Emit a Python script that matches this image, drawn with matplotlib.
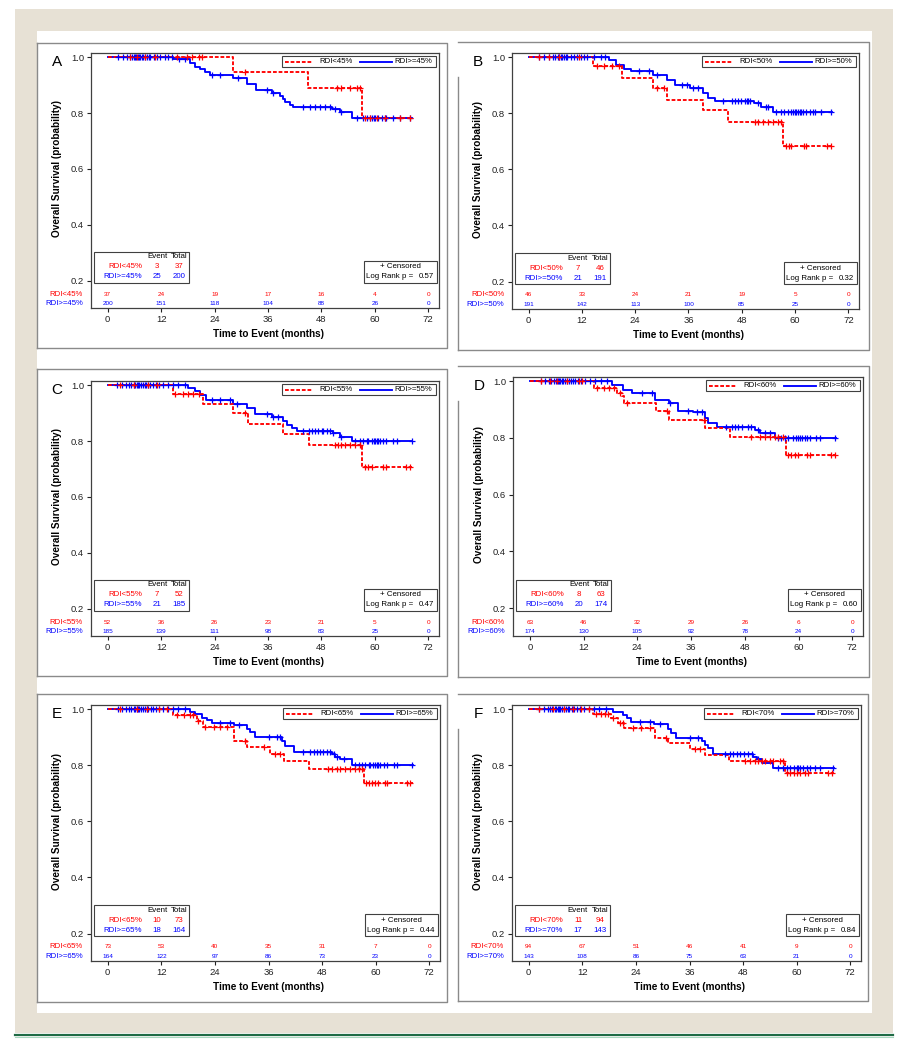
import numpy as np
import matplotlib
matplotlib.use('Agg')
import matplotlib.pyplot as plt
import matplotlib.transforms as mtransforms
from matplotlib.patches import Rectangle
from matplotlib.lines import Line2D

plt.rcParams['font.family'] = ['Liberation Sans', 'DejaVu Sans']

W, H = 907, 1050
RED = '#ff0000'
BLUE = '#0000ff'

# ---------------- data ----------------
letters = ['A', 'B', 'C', 'D', 'E', 'F']
cutoffs = ['45', '50', '55', '60', '65', '70']
risk_times = [0, 12, 24, 36, 48, 60, 72]
end_time = [68.3, 68.3, 68.3, 68.3, 68.3, 68.3]
pvalues = ['0.57', '0.32', '0.47', '0.60', '0.44', '0.84']
red_events = [3, 7, 7, 8, 10, 11]
red_totals = [37, 46, 52, 63, 73, 94]
blue_events = [25, 21, 21, 20, 18, 17]
blue_totals = [200, 191, 185, 174, 164, 143]

# panel A
a_red_t = [28.2, 45.0, 57.2]
a_red_s = [0.946, 0.891, 0.781]
a_red_cens = [5.0, 6.5, 8.4, 10.6, 15.5, 17.7, 18.9, 20.4, 21.1, 30.8, 51.4, 52.5, 54.4, 55.9,
              56.7, 57.8, 58.9, 60.4, 62.3, 65.6, 67.9]
a_blue_t = [14.7, 18.5, 19.5, 20.7, 21.9, 23.0, 28.2, 31.2, 33.2, 36.8, 38.8, 39.3, 39.8, 41.0,
            41.7, 50.3, 52.2, 54.8]
a_blue_s = [0.994, 0.979, 0.966, 0.957, 0.948, 0.937, 0.925, 0.905, 0.883, 0.872, 0.862, 0.851,
            0.840, 0.830, 0.820, 0.813, 0.805, 0.784]
a_blue_cens = [2.4, 3.5, 4.3, 5.0, 5.5, 5.8, 6.1, 6.4, 6.7, 7.0, 7.3, 7.7, 8.0, 8.4, 8.8, 9.2, 9.6,
               10.3, 11.0, 11.8, 12.9, 13.6, 14.4, 15.9, 17.4, 23.4, 25.2, 29.3, 35.7, 37.2, 43.9,
               45.4, 46.6, 47.7, 48.8, 49.9, 51.0, 52.5, 55.9, 57.4, 58.2, 58.9, 59.3, 59.7, 60.0,
               60.8, 61.5, 62.3, 62.6, 64.1, 65.6, 67.9]
a_red_risk = [37, 24, 19, 17, 16, 4, 0]
a_blue_risk = [200, 151, 118, 104, 88, 26, 0]

# panel B
b_red_t = [14.5, 21.0, 28.1, 31.1, 39.3, 44.9, 57.2]
b_red_s = [0.969, 0.927, 0.889, 0.848, 0.810, 0.768, 0.683]
b_red_cens = [2.4, 4.6, 6.9, 11.3, 15.4, 16.9, 18.8, 20.3, 28.9, 30.4, 50.9, 51.6, 52.8, 53.9,
              55.0, 56.1, 56.9, 58.0, 58.7, 59.1, 62.1, 62.5, 67.3, 68.0]
b_blue_t = [18.1, 19.6, 21.5, 23.0, 28.1, 31.1, 33.0, 36.3, 39.3, 40.5, 41.9, 50.8, 52.4, 55.0]
b_blue_s = [0.990, 0.973, 0.957, 0.951, 0.935, 0.919, 0.900, 0.889, 0.872, 0.854, 0.843, 0.835,
            0.824, 0.805]
b_blue_cens = [2.4, 3.5, 4.6, 5.4, 6.0, 6.5, 6.9, 7.2, 7.6, 8.0, 8.4, 8.7, 9.5, 10.2, 11.0, 11.7,
               12.5, 13.2, 14.7, 16.2, 17.3, 24.8, 27.0, 28.9, 34.5, 35.6, 37.1, 38.2, 43.8, 45.7,
               46.4, 47.2, 47.9, 48.7, 49.1, 49.4, 49.8, 51.6, 53.5, 53.9, 55.8, 56.9, 57.6, 58.4,
               59.1, 59.5, 59.9, 60.3, 60.6, 61.0, 61.4, 61.8, 62.5, 63.3, 64.0, 64.4, 65.9, 68.2]
b_red_risk = [46, 33, 24, 21, 19, 5, 0]
b_blue_risk = [191, 142, 113, 100, 85, 25, 0]

# panel C
c_red_t = [14.7, 21.5, 28.2, 31.4, 39.4, 45.1, 57.2]
c_red_s = [0.970, 0.932, 0.899, 0.861, 0.825, 0.785, 0.706]
c_red_cens = [2.8, 5.8, 9.1, 11.0, 15.1, 17.0, 18.1, 19.2, 20.4, 30.8, 51.0, 51.8, 52.5, 53.3,
              54.4, 55.5, 56.7, 57.8, 58.5, 59.3, 61.9, 62.6, 67.1, 67.9]
c_blue_t = [18.1, 19.5, 20.7, 22.0, 28.2, 31.2, 33.1, 36.8, 39.4, 40.2, 41.5, 42.5, 50.6, 52.2, 54.8]
c_blue_s = [0.990, 0.978, 0.965, 0.948, 0.931, 0.917, 0.896, 0.887, 0.872, 0.858, 0.845, 0.837,
            0.829, 0.815, 0.799]
c_blue_cens = [2.2, 3.2, 4.0, 4.7, 5.3, 5.8, 6.2, 6.5, 6.8, 7.1, 7.5, 7.9, 8.3, 8.7, 9.1, 9.6, 10.2,
               10.8, 11.5, 12.4, 13.5, 14.6, 15.8, 17.4, 23.4, 25.2, 27.5, 29.0, 35.7, 37.2, 38.3,
               43.9, 45.1, 45.8, 46.6, 47.3, 48.1, 48.4, 49.2, 49.9, 50.7, 52.5, 55.5, 56.7, 57.4,
               58.2, 58.5, 59.3, 59.7, 60.0, 60.4, 60.8, 61.2, 61.9, 62.6, 64.1, 64.9, 68.3]
c_red_risk = [52, 36, 26, 23, 21, 5, 0]
c_blue_risk = [185, 139, 111, 98, 83, 25, 0]

# panel D
d_red_t = [14.4, 19.4, 20.6, 21.1, 28.1, 31.0, 39.1, 44.8, 57.3]
d_red_s = [0.976, 0.957, 0.947, 0.925, 0.896, 0.864, 0.834, 0.804, 0.740]
d_red_cens = [2.4, 4.6, 6.1, 8.3, 10.9, 11.7, 15.0, 16.5, 17.6, 18.7, 20.2, 21.7, 30.6, 38.8,
              49.5, 51.4, 52.5, 53.6, 54.7, 55.5, 56.6, 57.7, 58.4, 59.2, 59.9, 61.8, 62.5, 67.3, 68.1]
d_blue_t = [18.3, 20.9, 22.8, 28.0, 31.0, 33.2, 36.5, 39.1, 39.9, 41.7, 50.3, 51.4, 54.7]
d_blue_s = [0.987, 0.970, 0.957, 0.935, 0.922, 0.896, 0.890, 0.872, 0.854, 0.837, 0.828, 0.819,
            0.799]
d_blue_cens = [2.4, 3.4, 4.2, 4.8, 5.3, 5.8, 6.2, 6.5, 6.8, 7.1, 7.5, 7.9, 8.3, 8.7, 9.1, 9.6, 10.2,
               10.8, 11.5, 12.4, 13.5, 14.6, 15.8, 17.2, 25.0, 27.2, 31.3, 35.4, 37.3, 38.4, 43.9,
               45.1, 45.8, 46.5, 47.3, 48.8, 49.5, 51.0, 52.5, 53.6, 55.5, 56.2, 56.9, 57.7, 58.8,
               59.5, 59.9, 60.3, 60.7, 61.4, 61.8, 62.5, 64.0, 64.7, 68.1]
d_red_risk = [63, 46, 32, 29, 26, 6, 0]
d_blue_risk = [174, 130, 105, 92, 78, 24, 0]

# panel E
e_red_t = [14.7, 19.9, 21.4, 28.2, 31.1, 36.4, 39.4, 45.0, 57.4]
e_red_s = [0.980, 0.958, 0.935, 0.888, 0.864, 0.840, 0.814, 0.788, 0.736]
e_red_cens = [2.8, 6.5, 8.7, 11.4, 13.2, 15.5, 17.0, 18.4, 19.2, 20.3, 21.8, 23.7, 25.2, 26.7,
              30.8, 34.9, 37.5, 38.6, 49.4, 50.2, 51.3, 52.1, 53.2, 54.3, 55.4, 56.2, 57.0, 57.9,
              58.4, 59.1, 59.9, 60.6, 62.1, 62.5, 67.0, 67.7]
e_blue_t = [18.4, 19.5, 21.1, 22.2, 23.3, 28.2, 31.1, 31.9, 33.0, 39.0, 39.7, 41.6, 50.2, 50.9,
            52.1, 54.7]
e_blue_s = [0.989, 0.982, 0.968, 0.960, 0.952, 0.944, 0.929, 0.918, 0.902, 0.887, 0.870, 0.846,
            0.839, 0.831, 0.823, 0.802]
e_blue_cens = [2.2, 3.2, 4.0, 4.7, 5.3, 5.8, 6.2, 6.5, 6.8, 7.1, 7.5, 7.9, 8.3, 8.7, 9.1, 9.6, 10.2,
               10.8, 11.5, 12.4, 13.5, 14.6, 15.8, 17.4, 25.2, 27.4, 29.3, 36.0, 37.9, 38.6, 43.8,
               45.3, 46.1, 46.8, 47.6, 48.3, 49.1, 49.8, 50.6, 51.3, 52.8, 55.4, 56.2, 56.9, 57.7,
               58.4, 58.8, 59.5, 59.9, 60.3, 60.6, 61.0, 61.8, 62.5, 64.0, 64.7, 68.1]
e_red_risk = [73, 53, 40, 35, 31, 7, 0]
e_blue_risk = [164, 122, 97, 86, 73, 23, 0]

# panel F
f_red_t = [14.4, 18.5, 20.0, 21.3, 28.2, 31.2, 36.1, 39.4, 44.9, 57.4]
f_red_s = [0.982, 0.968, 0.950, 0.932, 0.896, 0.878, 0.857, 0.836, 0.816, 0.774]
f_red_cens = [2.4, 5.4, 8.0, 9.9, 11.8, 13.6, 15.1, 16.2, 17.0, 17.7, 18.9, 20.4, 21.1, 23.4, 25.2,
              27.1, 30.8, 37.2, 38.3, 48.4, 49.6, 50.7, 51.4, 52.2, 52.9, 54.0, 54.8, 56.3, 57.0,
              57.8, 58.5, 59.3, 60.0, 60.8, 61.9, 62.6, 67.1, 67.9]
f_blue_t = [18.9, 21.1, 21.9, 23.0, 28.0, 31.2, 31.9, 32.9, 38.7, 39.4, 40.2, 41.3, 50.3, 51.0,
            52.2, 54.8]
f_blue_s = [0.989, 0.980, 0.968, 0.953, 0.946, 0.928, 0.916, 0.896, 0.888, 0.872, 0.860, 0.839,
            0.830, 0.822, 0.809, 0.789]
f_blue_cens = [2.4, 3.4, 4.2, 4.8, 5.3, 5.8, 6.2, 6.5, 6.8, 7.1, 7.5, 7.9, 8.3, 8.7, 9.1, 9.6, 10.2,
               10.8, 11.5, 12.4, 13.5, 14.6, 15.8, 17.2, 24.9, 27.1, 29.3, 36.1, 37.9, 43.9, 45.1,
               45.8, 46.6, 47.3, 48.1, 49.2, 49.9, 51.4, 55.9, 57.0, 57.8, 58.5, 59.3, 60.0, 60.4,
               60.8, 61.5, 62.3, 63.0, 64.1, 65.3, 68.1]
f_red_risk = [94, 67, 51, 46, 41, 9, 0]
f_blue_risk = [143, 108, 86, 75, 63, 21, 0]

red_t = [a_red_t, b_red_t, c_red_t, d_red_t, e_red_t, f_red_t]
red_s = [a_red_s, b_red_s, c_red_s, d_red_s, e_red_s, f_red_s]
red_cens = [a_red_cens, b_red_cens, c_red_cens, d_red_cens, e_red_cens, f_red_cens]
blue_t = [a_blue_t, b_blue_t, c_blue_t, d_blue_t, e_blue_t, f_blue_t]
blue_s = [a_blue_s, b_blue_s, c_blue_s, d_blue_s, e_blue_s, f_blue_s]
blue_cens = [a_blue_cens, b_blue_cens, c_blue_cens, d_blue_cens, e_blue_cens, f_blue_cens]
red_risk = [a_red_risk, b_red_risk, c_red_risk, d_red_risk, e_red_risk, f_red_risk]
blue_risk = [a_blue_risk, b_blue_risk, c_blue_risk, d_blue_risk, e_blue_risk, f_blue_risk]

# ---------------- layout (pixels) ----------------
axes_px = [(91, 53, 348, 255), (512, 53, 347, 256),
           (91, 381, 348, 255), (513, 377, 350, 259),
           (91, 705, 349, 256), (512, 705, 349, 256)]
borders = [(37, 43, 447, 348), (458, 42, 869, 350),
           (37, 369, 447, 676), (458, 366, 869, 677),
           (37, 694, 447, 1002), (458, 694, 868, 1001)]

fig = plt.figure(figsize=(W / 100, H / 100), dpi=100)
fig.patch.set_facecolor('white')
pix = mtransforms.Affine2D().scale(1.0 / W, -1.0 / H).translate(0, 1) + fig.transFigure

fig.patches.append(Rectangle((15, 9), 878, 1024, transform=pix, facecolor='#e7e1d5',
                             edgecolor='none', zorder=-10))
fig.patches.append(Rectangle((37, 31), 835, 982, transform=pix, facecolor='white',
                             edgecolor='none', zorder=-9))
fig.lines.append(Line2D([15, 893], [1035, 1035], transform=pix, color='#1f6b45', lw=1.6))
fig.lines.append(Line2D([15, 893], [1037, 1037], transform=pix, color='#a9d8bf', lw=0.8))

for i, (x0, y0, x1, y1) in enumerate(borders):
    ytop_left = y0 + 35 if i % 2 == 1 else y0
    fig.lines.append(Line2D([x0, x0], [ytop_left, y1], transform=pix, color='#8a8a8a', lw=1.0))
    fig.lines.append(Line2D([x0, x1, x1, x0], [y0, y0, y1, y1], transform=pix,
                            color='#8a8a8a', lw=1.0))


def draw_km(ax, t, s, t_end, cens, color, ls):
    tt = [0.0] + list(t) + [t_end]
    ss = [1.0] + list(s) + [s[-1]]
    ax.step(tt, ss, where='post', color=color, lw=1.35, ls=ls, zorder=3)
    idx = np.searchsorted(np.array(t), np.array(cens), side='right')
    cy = np.array([1.0] + list(s))[idx]
    ax.plot(cens, cy, ls='none', marker='+', ms=5, mew=0.9, color=color, zorder=4)


dash = (0, (2.0, 1.0))

for i in range(6):
    L, T, w, h = axes_px[i]
    ax = fig.add_axes([L / W, 1 - (T + h) / H, w / W, h / H])
    ax.set_xlim(-3.75, 74.4)
    ax.set_ylim(0.102, 1.015)
    axp = mtransforms.Affine2D().scale(1.0 / w, -1.0 / h).translate(0, 1) + ax.transAxes
    xdata_ypix = mtransforms.blended_transform_factory(ax.transData, axp)
    xpix_ydata = mtransforms.blended_transform_factory(axp, ax.transData)

    for sp in ax.spines.values():
        sp.set_color('#404040')
        sp.set_linewidth(0.9)
    ax.set_xticks(risk_times)
    ax.set_yticks([0.2, 0.4, 0.6, 0.8, 1.0])
    ax.set_yticklabels(['0.2', '0.4', '0.6', '0.8', '1.0'])
    ax.tick_params(direction='out', length=3, width=0.8, labelsize=6.8, pad=2, colors='#222222')

    draw_km(ax, blue_t[i], blue_s[i], end_time[i], blue_cens[i], BLUE, '-')
    draw_km(ax, red_t[i], red_s[i], end_time[i], red_cens[i], RED, dash)

    # labels
    ax.text(-34, 9, letters[i], transform=axp, fontsize=11, ha='center', va='center')
    ax.text(-34, 0.6, 'Overall Survival (probability)', transform=xpix_ydata, rotation=90,
            fontsize=7.2, fontweight='bold', ha='center', va='center')
    ax.text(36, h + 26, 'Time to Event (months)', transform=xdata_ypix, fontsize=7.2,
            fontweight='bold', ha='center', va='center')

    lab_lo = 'RDI<' + cutoffs[i] + '%'
    lab_hi = 'RDI>=' + cutoffs[i] + '%'

    # legend box
    ax.add_patch(Rectangle((w - 157, 3), 154, 11, transform=axp, facecolor='white',
                           edgecolor='#404040', lw=0.8, zorder=5))
    ax.add_line(Line2D([w - 154, w - 126], [8.5, 8.5], transform=axp, color=RED, lw=1.35,
                       ls=dash, zorder=6))
    ax.text(w - 120, 8.5, lab_lo, transform=axp, fontsize=5.6, ha='left', va='center', zorder=6)
    ax.add_line(Line2D([w - 79, w - 47], [8.5, 8.5], transform=axp, color=BLUE, lw=1.35, zorder=6))
    ax.text(w - 45, 8.5, lab_hi, transform=axp, fontsize=5.6, ha='left', va='center', zorder=6)

    # event / total table
    ax.add_patch(Rectangle((3, h - 56), 95, 31, transform=axp, facecolor='white',
                           edgecolor='#404040', lw=0.8, zorder=5))
    ax.text(66, h - 51, 'Event', transform=axp, fontsize=5.7, ha='center', va='center', zorder=6)
    ax.text(88, h - 51, 'Total', transform=axp, fontsize=5.7, ha='center', va='center', zorder=6)
    for row, (lab, ev, tot, col) in enumerate([(lab_lo, red_events[i], red_totals[i], RED),
                                                (lab_hi, blue_events[i], blue_totals[i], BLUE)]):
        yy = h - 41 + row * 10
        ax.text(51, yy, lab, transform=axp, fontsize=5.7, ha='right', va='center', color=col, zorder=6)
        ax.text(66, yy, str(ev), transform=axp, fontsize=5.7, ha='center', va='center', color=col, zorder=6)
        ax.text(88, yy, str(tot), transform=axp, fontsize=5.7, ha='center', va='center', color=col, zorder=6)

    # censored / log rank box
    ax.add_patch(Rectangle((w - 75, h - 47), 73, 22, transform=axp, facecolor='white',
                           edgecolor='#404040', lw=0.8, zorder=5))
    ax.text(w - 39, h - 41, '+ Censored', transform=axp, fontsize=5.7, ha='center', va='center', zorder=6)
    ax.text(w - 73, h - 31, 'Log Rank p =', transform=axp, fontsize=5.7, ha='left', va='center', zorder=6)
    ax.text(w - 5, h - 31, pvalues[i], transform=axp, fontsize=5.7, ha='right', va='center', zorder=6)

    # numbers at risk
    ax.text(-8, h - 14, lab_lo, transform=axp, fontsize=5.6, ha='right', va='center', color=RED)
    ax.text(-8, h - 4.5, lab_hi, transform=axp, fontsize=5.6, ha='right', va='center', color=BLUE)
    for tx, nr, nb in zip(risk_times, red_risk[i], blue_risk[i]):
        ax.text(tx, h - 14, str(nr), transform=xdata_ypix, fontsize=4.6, ha='center',
                va='center', color=RED)
        ax.text(tx, h - 4.5, str(nb), transform=xdata_ypix, fontsize=4.6, ha='center',
                va='center', color=BLUE)

fig.savefig('out.png', dpi=100)
